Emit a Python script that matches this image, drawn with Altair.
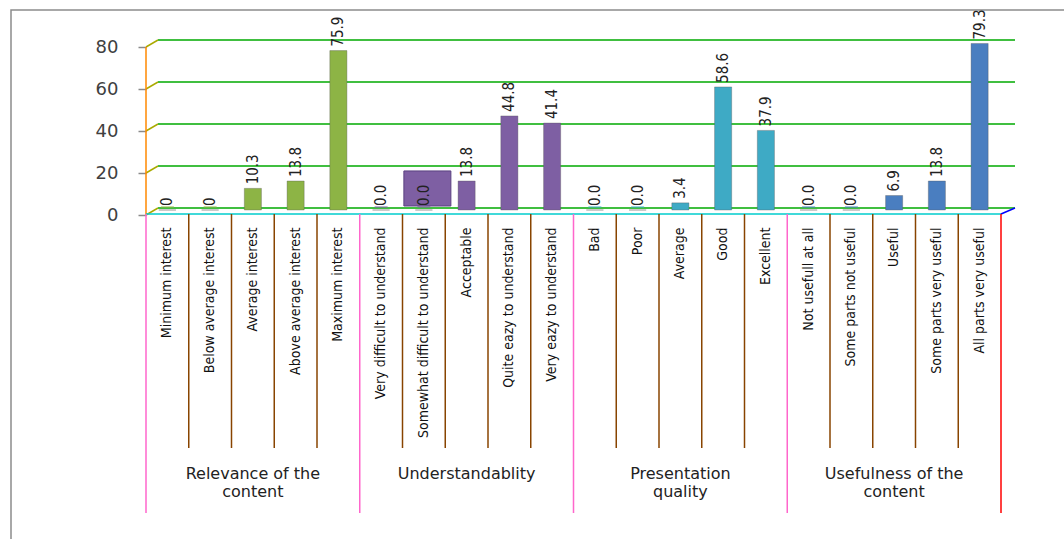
import altair as alt
import pandas as pd

# ---------------- data ----------------
groups = ["Relevance of the content", "Understandablity",
          "Presentation quality", "Usefulness of the content"]
group_titles = ["Relevance of the\ncontent", "Understandablity",
                "Presentation\nquality", "Usefulness of the\ncontent"]
categories = [
    "Minimum interest", "Below average interest", "Average interest",
    "Above average interest", "Maximum interest",
    "Very difficult to understand", "Somewhat difficult to understand",
    "Acceptable", "Quite eazy to understand", "Very eazy to understand",
    "Bad", "Poor", "Average", "Good", "Excellent",
    "Not usefull at all", "Some parts not useful", "Useful",
    "Some parts very useful", "All parts very useful",
]
category_group = [g for g in groups for _ in range(5)]
values = [0, 0, 10.3, 13.8, 75.9,
          0.0, 0.0, 13.8, 44.8, 41.4,
          0.0, 0.0, 3.4, 58.6, 37.9,
          0.0, 0.0, 6.9, 13.8, 79.3]
value_labels = ["0", "0", "10.3", "13.8", "75.9",
                "0.0", "0.0", "13.8", "44.8", "41.4",
                "0.0", "0.0", "3.4", "58.6", "37.9",
                "0.0", "0.0", "6.9", "13.8", "79.3"]
group_colors = ["#8DB445", "#7E5FA3", "#3EAAC5", "#4A7EC0"]
y_ticks = [0, 20, 40, 60, 80]
box_category = ["Somewhat difficult to understand"]
box_group = ["Understandablity"]
box_low = [1.9]
box_high = [18.6]

df = pd.DataFrame({"category": categories, "group": category_group,
                   "value": values, "label": value_labels})
df["idx"] = range(len(df))
zeros = df[df["value"] == 0]
sep_inner = df[df["idx"] % 5 != 0]
sep_group = df[df["idx"] % 5 == 0]
ticks_df = pd.DataFrame({"tick": y_ticks})
box_df = pd.DataFrame({"category": box_category, "group": box_group,
                       "low": box_low, "high": box_high})
grp_df = pd.DataFrame({"group": groups, "title": group_titles,
                       "category": [categories[i * 5 + 2] for i in range(4)]})
one = pd.DataFrame({"a": [0]})

W, H = 855, 168
STEP = W / len(categories)
GRID = "#8a8a8a"

xscale = alt.Scale(domain=categories, paddingInner=0.6, paddingOuter=0.3)
yscale = alt.Scale(domain=[0, 80], nice=False)
cscale = alt.Scale(domain=groups, range=group_colors)

xaxis = alt.Axis(title=None, labelAngle=-90, labelFont="DejaVu Sans Condensed",
                 labelFontSize=14, labelPadding=17, ticks=False, domain=False,
                 labelColor="#111111", labelLimit=400, grid=False)
X = alt.X("category:N", scale=xscale, sort=categories, axis=xaxis)

yaxis = alt.Axis(title=None, values=y_ticks, grid=False, tickSize=8, tickOffset=5,
                 domain=False, tickColor=GRID, tickWidth=1.5,
                 labelFont="DejaVu Sans", labelFontSize=18, labelPadding=20,
                 labelColor="#404040")


def Y(field):
    return alt.Y(field, scale=yscale, axis=yaxis)


border = alt.Chart(one).mark_rect(fillOpacity=0, stroke="#8c8c8c", strokeWidth=1.5).encode(
    x=alt.value(-135), x2=alt.value(940), y=alt.value(-32), y2=alt.value(520))
grid = alt.Chart(ticks_df).mark_rule(color="#00aa00", strokeWidth=1.5, yOffset=-2).encode(
    y=Y("tick:Q"), x=alt.value(12), x2=alt.value(W + 14))
diag = alt.Chart(ticks_df).mark_rule(color="#aaaa00", strokeWidth=1.5, yOffset=5, y2Offset=-2).encode(
    y=Y("tick:Q"), y2="tick:Q", x=alt.value(0), x2=alt.value(12))
yaxis_line = alt.Chart(ticks_df).mark_rule(color="#ff8800", strokeWidth=1.5, yOffset=5, y2Offset=5).encode(
    y=Y("min(tick):Q"), y2="max(tick):Q", x=alt.value(0))
floor_df = ticks_df[ticks_df["tick"] == 0]
floor_front = alt.Chart(floor_df).mark_rule(color="#00cccc", strokeWidth=1.5, yOffset=4).encode(
    y=Y("tick:Q"), x=alt.value(0), x2=alt.value(W))
floor_side = alt.Chart(floor_df).mark_rule(color="#0000ff", strokeWidth=1.5, yOffset=4, y2Offset=-2).encode(
    y=Y("tick:Q"), y2="tick:Q", x=alt.value(W), x2=alt.value(W + 14))
inner = alt.Chart(sep_inner).mark_rule(color="#884400", strokeWidth=1.5, xOffset=-STEP / 2).encode(
    x=X, y=alt.value(172), y2=alt.value(406))
outer = alt.Chart(sep_group).mark_rule(color="#ff66cc", strokeWidth=1.5, xOffset=-STEP / 2).encode(
    x=X, y=alt.value(172), y2=alt.value(471))
endline = alt.Chart(one).mark_rule(color="#ff0000", strokeWidth=1.5).encode(
    x=alt.value(W), y=alt.value(172), y2=alt.value(471))

color = alt.Color("group:N", scale=cscale, legend=None)
bars = alt.Chart(df).mark_bar(stroke="#555555", strokeOpacity=0.35, strokeWidth=1).encode(
    x=X, y=Y("value:Q"), color=color)
caps = alt.Chart(zeros).mark_tick(thickness=2, size=13, opacity=0.5, yOffset=-3).encode(
    x=X, y=Y("value:Q"), color=color)
box = alt.Chart(box_df).mark_bar(width=47, xOffset=3.5, stroke="#5a4080", strokeWidth=1).encode(
    x=X, y=Y("low:Q"), y2="high:Q", color=color)
labels = alt.Chart(df).mark_text(angle=270, align="left", baseline="middle", yOffset=-4,
                                 font="DejaVu Sans Condensed", fontSize=15, color="#222222").encode(
    x=X, y=Y("value:Q"), text="label:N")
glabels = alt.Chart(grp_df).mark_text(lineBreak="\n", baseline="top", align="center",
                                      font="DejaVu Sans", fontSize=16, lineHeight=18,
                                      color="#222222").encode(
    x=X, y=alt.value(424), text="title:N")

chart = alt.layer(
    border, grid, diag, yaxis_line, floor_front, floor_side,
    inner, outer, endline, bars, caps, box, labels, glabels
).properties(
    width=W, height=H,
    background="white",
    padding={"left": 146, "top": 42, "right": 63, "bottom": 329},
    autosize=alt.AutoSizeParams(type="none"),
).configure_view(stroke="transparent", strokeWidth=0).configure_axis(grid=False)

chart.save("out.html", embed_options={"renderer": "svg", "actions": False})
